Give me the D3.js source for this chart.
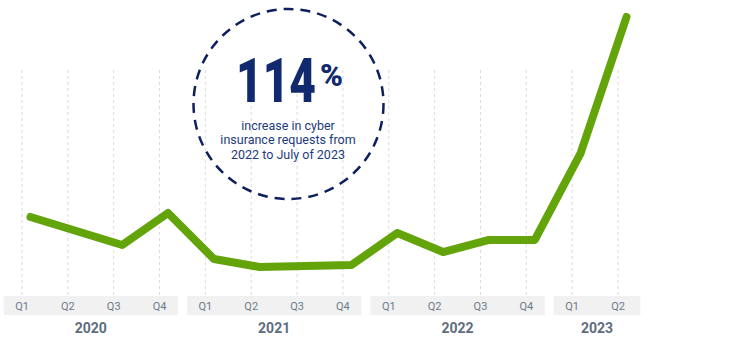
<!DOCTYPE html>
<html><head><meta charset="utf-8">
<script src="https://cdn.jsdelivr.net/npm/d3@7"></script>
<style>
html,body{margin:0;padding:0;background:#fff;}
svg{display:block;font-family:Roboto, "Open Sans", sans-serif;}
</style></head>
<body><svg id="c" width="750" height="348"></svg>
<script>
const years = ["2020","2021","2022","2023"];
const quarters = [["Q1","Q2","Q3","Q4"],["Q1","Q2","Q3","Q4"],["Q1","Q2","Q3","Q4"],["Q1","Q2"]];
const values = [66.4, 53.6, 40.9, 70.0, 28.2, 20.9, 21.8, 22.7, 51.8, 34.5, 45.5, 45.5, 124.5, 248.2];
const calloutValue = "114";
const calloutLines = ["increase in cyber","insurance requests from","2022 to July of 2023"];

const svg = d3.select("#c");
const periods = [];
quarters.forEach((qs, yi) => qs.forEach(q => periods.push({year: years[yi], q, key: years[yi] + q})));

const x = d3.scalePoint().domain(periods.map(p => p.key)).range([22, 618]);
const step = x.step();
const lineOffset = 8.5;
const y = d3.scaleLinear().domain([0, 250]).range([290, 15]);

// gridlines
svg.append("g").selectAll("line").data(periods).join("line")
  .attr("x1", d => x(d.key)).attr("x2", d => x(d.key))
  .attr("y1", 70).attr("y2", 296)
  .attr("stroke", "#dcdcdc").attr("stroke-width", 1).attr("stroke-dasharray", "3,3");

// year boxes
const yearG = svg.append("g");
years.forEach((yr, yi) => {
  const keys = periods.filter(p => p.year === yr).map(p => x(p.key));
  const x0 = d3.min(keys) - step/2 + 4.5, x1 = d3.max(keys) + step/2 - 4.5 + (yi === years.length - 1 ? 4 : 0);
  yearG.append("rect").attr("x", x0).attr("y", 296).attr("width", x1 - x0).attr("height", 19)
    .attr("fill", "#f1f1f1");
  yearG.append("text").attr("x", (x0 + x1)/2).attr("y", 333)
    .attr("text-anchor", "middle").attr("font-size", 14).attr("font-weight", "bold")
    .attr("fill", "#5e6d7d").text(yr);
});
svg.append("g").selectAll("text").data(periods).join("text")
  .attr("x", d => x(d.key)).attr("y", 309.5)
  .attr("text-anchor", "middle").attr("font-size", 11).attr("fill", "#6b7a8b")
  .text(d => d.q);

// line
const line = d3.line().x((d, i) => x(periods[i].key) + lineOffset).y(d => y(d));
svg.append("path").datum(values).attr("d", line)
  .attr("fill", "none").attr("stroke", "#62a40a").attr("stroke-width", 8)
  .attr("stroke-linejoin", "round").attr("stroke-linecap", "round");

// callout circle
const cg = svg.append("g");
cg.append("circle").attr("cx", 288.5).attr("cy", 104).attr("r", 95)
  .attr("fill", "none").attr("stroke", "#0d1f5c").attr("stroke-width", 2.5)
  .attr("stroke-dasharray", "10,7");
const big = cg.append("text").attr("x", 236).attr("y", 102).attr("text-anchor", "start")
  .attr("fill", "#112a6f").attr("font-weight", 900);
big.append("tspan").attr("font-size", 62)
  .attr("textLength", 80).attr("lengthAdjust", "spacingAndGlyphs").text(calloutValue);
big.append("tspan").attr("x", 320).attr("dy", -16).attr("font-size", 31)
  .attr("textLength", 23).attr("lengthAdjust", "spacingAndGlyphs").text("%");
cg.append("g").selectAll("text").data(calloutLines).join("text")
  .attr("x", 288).attr("y", (d, i) => 129.5 + i * 14.5)
  .attr("text-anchor", "middle").attr("font-size", 12.5).attr("fill", "#1d3b7c")
  .text(d => d);
</script></body></html>
